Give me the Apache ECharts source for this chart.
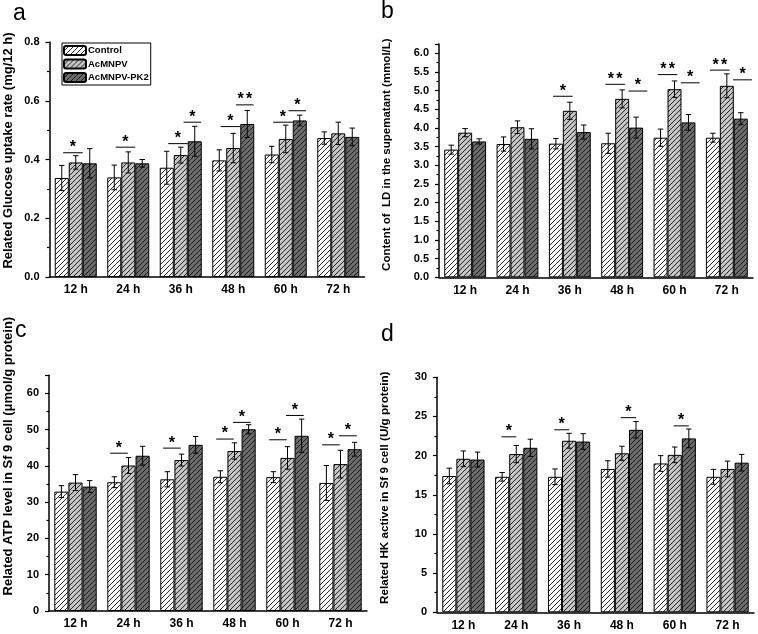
<!DOCTYPE html>
<html>
<head>
<meta charset="utf-8">
<script src="https://cdn.jsdelivr.net/npm/echarts@6/dist/echarts.min.js"></script>
<style>
html,body{margin:0;padding:0;background:#fff;}
#chart{width:758px;height:634px;}
</style>
</head>
<body>
<div id="chart"></div>
<script>
// ---------- data ----------
const categories = ['12 h', '24 h', '36 h', '48 h', '60 h', '72 h'];
const seriesNames = ['Control', 'AcMNPV', 'AcMNPV-PK2'];

// (a) glucose uptake rate
const glucoseControl = [0.337, 0.339, 0.372, 0.397, 0.417, 0.473];
const glucoseAcMNPV = [0.390, 0.390, 0.415, 0.439, 0.470, 0.489];
const glucosePK2 = [0.387, 0.387, 0.462, 0.521, 0.533, 0.477];
const glucoseControlErr = [0.043, 0.042, 0.056, 0.036, 0.028, 0.021];
const glucoseAcMNPVErr = [0.023, 0.036, 0.027, 0.050, 0.047, 0.038];
const glucosePK2Err = [0.050, 0.013, 0.051, 0.046, 0.018, 0.030];
// significance: [category index, left bar of compared pair, height, number of stars]
const glucoseSig = [[0, 0, 0.423, 1], [1, 0, 0.442, 1], [2, 0, 0.454, 1], [2, 1, 0.527, 1],
                    [3, 0, 0.512, 1], [3, 1, 0.586, 2], [4, 0, 0.527, 1], [4, 1, 0.566, 1]];

// (b) LD content
const ldControl = [3.42, 3.57, 3.58, 3.59, 3.74, 3.74];
const ldAcMNPV = [3.875, 4.02, 4.46, 4.78, 5.04, 5.13];
const ldPK2 = [3.64, 3.71, 3.89, 4.01, 4.15, 4.25];
const ldControlErr = [0.12, 0.19, 0.14, 0.27, 0.23, 0.12];
const ldAcMNPVErr = [0.11, 0.17, 0.23, 0.24, 0.22, 0.32];
const ldPK2Err = [0.07, 0.27, 0.19, 0.28, 0.21, 0.16];
const ldSig = [[2, 0, 4.85, 1], [3, 0, 5.17, 2], [3, 1, 4.99, 1], [4, 0, 5.43, 2],
               [4, 1, 5.21, 1], [5, 0, 5.55, 2], [5, 1, 5.29, 1]];

// (c) ATP level
const atpControl = [32.9, 35.5, 36.3, 37.0, 36.9, 35.3];
const atpAcMNPV = [35.4, 40.1, 41.6, 44.1, 42.2, 40.5];
const atpPK2 = [34.3, 42.8, 45.8, 50.1, 48.3, 44.6];
const atpControlErr = [1.65, 1.5, 2.1, 1.65, 1.5, 4.8];
const atpAcMNPVErr = [2.2, 2.2, 1.65, 2.25, 3.1, 3.8];
const atpPK2Err = [1.65, 2.6, 2.3, 1.25, 4.6, 1.9];
const atpSig = [[1, 0, 43.5, 1], [2, 0, 44.9, 1], [3, 0, 47.4, 1], [3, 1, 52.0, 1],
                [4, 0, 47.2, 1], [4, 1, 53.9, 1], [5, 0, 45.8, 1], [5, 1, 48.3, 1]];

// (d) HK activity
const hkControl = [17.4, 17.3, 17.3, 18.3, 19.0, 17.3];
const hkAcMNPV = [19.6, 20.2, 21.9, 20.3, 20.1, 18.3];
const hkPK2 = [19.5, 21.0, 21.8, 23.3, 22.2, 19.1];
const hkControlErr = [1.0, 0.55, 1.0, 1.05, 1.0, 0.95];
const hkAcMNPVErr = [1.0, 1.1, 0.95, 0.9, 1.0, 1.0];
const hkPK2Err = [0.95, 1.1, 1.0, 1.05, 1.2, 1.06];
const hkSig = [[1, 0, 22.4, 1], [2, 0, 23.3, 1], [3, 1, 24.85, 1], [4, 1, 23.8, 1]];

// y axis tick setup
const yMax = [0.8, 6.25, 65, 30];
const yInterval = [0.2, 0.5, 10, 5];
const yDecimals = [1, 1, 0, 0];
const yNames = ['Related Glucose uptake rate (mg/12 h)',
                'Content of  LD in the supematant (mmol/L)',
                'Related ATP level in Sf 9 cell (\u03bcmol/g protein)',
                'Related HK active in Sf 9 cell (U/g protein)'];
const panelLetters = ['a', 'b', 'c', 'd'];

// ---------- styling / layout ----------
const FONT = '"Liberation Sans", Arial, Helvetica, sans-serif';
const CAT_GAP = 0.2;

function hatch(bg) {
  const s = 5;
  const c = document.createElement('canvas');
  c.width = s; c.height = s;
  const ctx = c.getContext('2d');
  ctx.fillStyle = bg;
  ctx.fillRect(0, 0, s, s);
  ctx.strokeStyle = '#111';
  ctx.lineWidth = 0.9;
  ctx.beginPath();
  ctx.moveTo(-1, s + 1); ctx.lineTo(s + 1, -1);
  ctx.moveTo(-1, 1); ctx.lineTo(1, -1);
  ctx.moveTo(s - 1, s + 1); ctx.lineTo(s + 1, s - 1);
  ctx.stroke();
  return { image: c, repeat: 'repeat' };
}
const fills = [hatch('#ffffff'), hatch('#c4c4c4'), hatch('#6c6c6c')];

const grids = [
  { left: 49.5, top: 42, width: 315, height: 235 },
  { left: 439, top: 44, width: 314, height: 233.3 },
  { left: 49, top: 375.2, width: 318, height: 235.8 },
  { left: 437, top: 377.3, width: 317, height: 235 }
];
const namePad = [18, 12, 74, 14];
const nameGap = [35, 46, 34, 46];
const nameSize = [13, 11.5, 13, 11.7];
const letterPos = [[13, 2], [381, 0], [15, 319], [381, 323]];
// significance bracket extent per panel, in bar widths from the left bar centre: [pair0, pair1]
const sigExtent = [
  [[0.1, 1.5], [0.2, 1.45]],
  [[-0.2, 1.2], [0.45, 1.8]],
  [[-0.3, 0.95], [-0.1, 1.15]],
  [[-0.05, 1.0], [-0.08, 1.0]]
];

const panels = [
  { vals: [glucoseControl, glucoseAcMNPV, glucosePK2], errs: [glucoseControlErr, glucoseAcMNPVErr, glucosePK2Err], sig: glucoseSig },
  { vals: [ldControl, ldAcMNPV, ldPK2], errs: [ldControlErr, ldAcMNPVErr, ldPK2Err], sig: ldSig },
  { vals: [atpControl, atpAcMNPV, atpPK2], errs: [atpControlErr, atpAcMNPVErr, atpPK2Err], sig: atpSig },
  { vals: [hkControl, hkAcMNPV, hkPK2], errs: [hkControlErr, hkAcMNPVErr, hkPK2Err], sig: hkSig }
];

function errorRender(params, api) {
  const cat = api.value(0), val = api.value(1), err = api.value(2), bi = api.value(3);
  const base = api.coord([cat, val]);
  const barW = api.size([1, 0])[0] * (1 - CAT_GAP) / 3;
  const x = base[0] + (bi - 1) * barW;
  const yTop = api.coord([cat, val + err])[1];
  const yBot = api.coord([cat, val - err])[1];
  const cap = 2.7;
  const style = { stroke: '#000', lineWidth: 1 };
  return {
    type: 'group', children: [
      { type: 'line', shape: { x1: x, y1: yTop, x2: x, y2: yBot }, style },
      { type: 'line', shape: { x1: x - cap, y1: yTop, x2: x + cap, y2: yTop }, style },
      { type: 'line', shape: { x1: x - cap, y1: yBot, x2: x + cap, y2: yBot }, style }
    ]
  };
}

function makeSigRender(p) {
  return function (params, api) {
    const cat = api.value(0), left = api.value(1), yv = api.value(2), n = api.value(3);
    const c = api.coord([cat, yv]);
    const barW = api.size([1, 0])[0] * (1 - CAT_GAP) / 3;
    const lc = c[0] + (left - 1) * barW;
    const ext = sigExtent[p][left];
    const x0 = lc + ext[0] * barW, x1 = lc + ext[1] * barW;
    const mid = (x0 + x1) / 2;
    const children = [
      { type: 'line', shape: { x1: x0, y1: c[1], x2: x1, y2: c[1] }, style: { stroke: '#000', lineWidth: 1 } }
    ];
    for (let k = 0; k < n; k++) {
      children.push({
        type: 'text',
        x: mid + (k - (n - 1) / 2) * 8.5,
        y: c[1] + 3,
        style: { text: '*', fill: '#000', font: 'bold 16px ' + FONT, textAlign: 'center', textVerticalAlign: 'bottom' }
      });
    }
    return { type: 'group', children };
  };
}

const xAxes = [], yAxes = [], series = [], titles = [];
for (let p = 0; p < 4; p++) {
  xAxes.push({
    type: 'category', gridIndex: p, data: categories, position: 'bottom',
    axisLine: { lineStyle: { color: '#000', width: 1.5 } },
    axisTick: { alignWithLabel: true, length: 4, lineStyle: { color: '#000', width: 1.2 } },
    axisLabel: { color: '#000', fontWeight: 'bold', fontSize: 12, fontFamily: FONT, margin: 7 },
    splitLine: { show: false }
  });
  xAxes.push({
    type: 'category', gridIndex: p, data: categories, position: 'bottom',
    axisLine: { show: false },
    axisTick: { length: 2.5, lineStyle: { color: '#000', width: 1.2 } },
    axisLabel: { show: false },
    splitLine: { show: false }
  });
  const dec = yDecimals[p], inter = yInterval[p];
  yAxes.push({
    type: 'value', gridIndex: p, min: 0, max: yMax[p], interval: inter,
    name: yNames[p], nameLocation: 'middle', nameGap: nameGap[p],
    nameTextStyle: { color: '#000', fontWeight: 'bold', fontSize: nameSize[p], fontFamily: FONT, padding: [0, 0, 0, namePad[p]] },
    axisLine: { show: true, lineStyle: { color: '#000', width: 1.5 } },
    axisTick: { show: true, length: 4, lineStyle: { color: '#000', width: 1.2 } },
    minorTick: { show: true, splitNumber: 2, length: 2.5, lineStyle: { color: '#000', width: 1.2 } },
    splitLine: { show: false },
    axisLabel: {
      color: '#000', fontWeight: 'bold', fontSize: 11, fontFamily: FONT, margin: 10,
      showMaxLabel: yMax[p] % inter === 0,
      formatter: v => v.toFixed(dec)
    }
  });
  titles.push({
    text: panelLetters[p], left: letterPos[p][0], top: letterPos[p][1],
    padding: 0,
    textStyle: { color: '#000', fontWeight: 'normal', fontSize: 23, fontFamily: FONT }
  });
  const pan = panels[p];
  for (let s = 0; s < 3; s++) {
    series.push({
      type: 'bar', name: seriesNames[s], xAxisIndex: p * 2, yAxisIndex: p,
      data: pan.vals[s], barGap: '0%', barCategoryGap: (CAT_GAP * 100) + '%',
      itemStyle: { color: fills[s], borderColor: '#000', borderWidth: 1 },
      emphasis: { disabled: true }, silent: true
    });
  }
  const errData = [];
  for (let s = 0; s < 3; s++) {
    for (let i = 0; i < categories.length; i++) {
      errData.push([i, pan.vals[s][i], pan.errs[s][i], s]);
    }
  }
  series.push({
    type: 'custom', name: 'err' + p, xAxisIndex: p * 2, yAxisIndex: p,
    renderItem: errorRender, data: errData, encode: { x: 0, y: 1 }, z: 5, silent: true
  });
  series.push({
    type: 'custom', name: 'sig' + p, xAxisIndex: p * 2, yAxisIndex: p,
    renderItem: makeSigRender(p), data: pan.sig, encode: { x: 0, y: 2 }, z: 5, silent: true
  });
}

const chart = echarts.init(document.getElementById('chart'), null, { renderer: 'canvas' });
chart.setOption({
  backgroundColor: '#fff',
  animation: false,
  title: titles,
  grid: grids,
  xAxis: xAxes,
  yAxis: yAxes,
  legend: {
    data: seriesNames, orient: 'vertical', left: 62, top: 43,
    itemWidth: 22, itemHeight: 9, itemGap: 2.5,
    padding: [2, 2, 2, 1], borderColor: '#000', borderWidth: 1,
    selectedMode: false,
    textStyle: { color: '#000', fontWeight: 'bold', fontSize: 9.5, fontFamily: FONT, padding: [0, 0, 0, -3] }
  },
  series: series
});
</script>
</body>
</html>
